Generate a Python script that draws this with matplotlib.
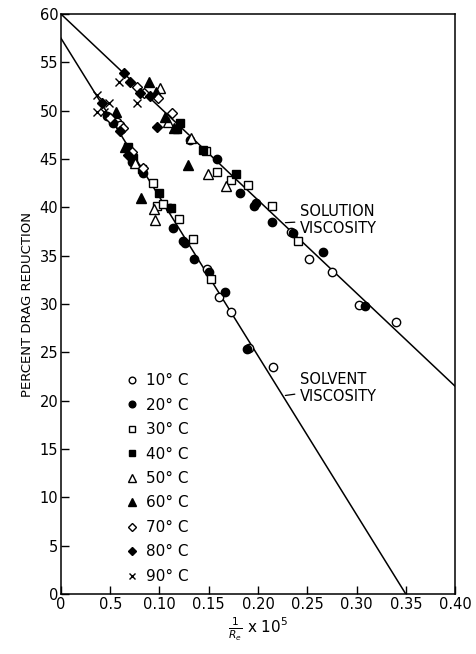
import numpy as np
import matplotlib
matplotlib.use("Agg")
from matplotlib import pyplot as plt

# data (x = 1/Re x 10^5, y = percent drag reduction)
t10_x = [0.148, 0.160, 0.173, 0.191, 0.215, 0.234, 0.252, 0.275, 0.303, 0.340, 0.057, 0.060]
t10_y = [33.6, 30.7, 29.2, 25.5, 23.5, 37.4, 34.7, 33.3, 29.9, 28.1, 48.8, 48.5]

t20_x = [0.072, 0.083, 0.111, 0.114, 0.124, 0.126, 0.135, 0.150, 0.167, 0.189,
         0.131, 0.158, 0.182, 0.198, 0.196, 0.214, 0.236, 0.266, 0.309, 0.053, 0.047]
t20_y = [44.7, 43.6, 39.9, 37.9, 36.5, 36.3, 34.7, 33.3, 31.2, 25.3,
         47.0, 45.0, 41.5, 40.4, 40.1, 38.5, 37.3, 35.4, 29.8, 48.7, 49.4]

t30_x = [0.093, 0.098, 0.104, 0.120, 0.134, 0.152, 0.147, 0.158, 0.173, 0.190, 0.214, 0.241]
t30_y = [42.5, 40.1, 40.3, 38.8, 36.7, 32.6, 45.8, 43.7, 42.8, 42.3, 40.1, 36.5]

t40_x = [0.100, 0.112, 0.068, 0.073, 0.082, 0.121, 0.144, 0.178, 0.118]
t40_y = [41.5, 39.9, 46.2, 45.1, 44.0, 48.7, 45.9, 43.4, 48.1]

t50_x = [0.075, 0.094, 0.095, 0.101, 0.109, 0.132, 0.149, 0.168]
t50_y = [44.6, 39.8, 38.7, 52.3, 48.8, 47.2, 43.4, 42.2]

t60_x = [0.089, 0.096, 0.106, 0.129, 0.081, 0.056, 0.065, 0.115]
t60_y = [53.0, 51.9, 49.3, 44.4, 41.0, 49.9, 46.2, 48.2]

t70_x = [0.077, 0.084, 0.099, 0.113, 0.083, 0.050, 0.063, 0.072]
t70_y = [52.4, 51.8, 51.3, 49.8, 44.1, 49.2, 48.2, 45.7]

t80_x = [0.064, 0.070, 0.080, 0.090, 0.098, 0.042, 0.068, 0.060]
t80_y = [53.9, 53.0, 51.8, 51.5, 48.3, 50.8, 45.4, 47.9]

t90_x = [0.059, 0.077, 0.037, 0.049, 0.037, 0.044]
t90_y = [53.0, 50.8, 51.6, 50.8, 49.9, 49.9]

# fitted lines
solution_x = [0.0, 0.40]
solution_y = [60.0, 21.5]
solvent_x = [0.0, 0.35]
solvent_y = [57.5, 0.0]

labels = ["10° C", "20° C", "30° C", "40° C", "50° C", "60° C", "70° C", "80° C", "90° C"]
xticks = [0, 0.05, 0.10, 0.15, 0.20, 0.25, 0.30, 0.35, 0.40]
xticklabels = ["0", "0.5", "0.10", "0.15", "0.20", "0.25", "0.30", "0.35", "0.40"]
yticks = list(range(0, 61, 5))

series = [(t10_x, t10_y), (t20_x, t20_y), (t30_x, t30_y), (t40_x, t40_y), (t50_x, t50_y),
          (t60_x, t60_y), (t70_x, t70_y), (t80_x, t80_y), (t90_x, t90_y)]
styles = [("o", "white", 6), ("o", "black", 6), ("s", "white", 6), ("s", "black", 6),
          ("^", "white", 6.5), ("^", "black", 6.5), ("D", "white", 5), ("D", "black", 5),
          ("x", "black", 6)]

plt.rcParams["font.family"] = ["DejaVu Sans"]

fig = plt.figure(figsize=(4.76, 6.54), dpi=100)
ax = fig.add_axes([0.128, 0.0917, 0.828, 0.8869])

ax.plot(solution_x, solution_y, color="black", lw=1.1)
ax.plot(solvent_x, solvent_y, color="black", lw=1.1)

for (xs, ys), (m, fc, ms), lab in zip(series, styles, labels):
    if m == "x":
        ax.plot(xs, ys, ls="none", marker=m, color="black", ms=ms, mew=1.0, label=lab)
    else:
        ax.plot(xs, ys, ls="none", marker=m, mfc=fc, mec="black", mew=1.0, ms=ms, label=lab)

ax.set_xlim(0, 0.40)
ax.set_ylim(0, 60)
ax.set_xticks(xticks)
ax.set_xticklabels(xticklabels, fontsize=10.5)
ax.set_yticks(yticks)
ax.set_yticklabels([str(v) for v in yticks], fontsize=10.5)
ax.tick_params(direction="in", length=6, width=1, top=False, right=False, pad=2)
for s in ax.spines.values():
    s.set_linewidth(1.1)

ax.set_ylabel("PERCENT DRAG REDUCTION", fontsize=9.5, labelpad=4)
ax.set_xlabel(r"$\frac{1}{R_e}$ x 10$^5$", fontsize=11, labelpad=3)

ax.annotate("SOLUTION\nVISCOSITY", xy=(0.225, 38.4), xytext=(0.243, 38.7),
            fontsize=10.5, ha="left", va="center", linespacing=1.2,
            arrowprops=dict(arrowstyle="-", color="black", lw=0.9))
ax.annotate("SOLVENT\nVISCOSITY", xy=(0.225, 20.5), xytext=(0.243, 21.3),
            fontsize=10.5, ha="left", va="center", linespacing=1.2,
            arrowprops=dict(arrowstyle="-", color="black", lw=0.9))

ax.legend(loc="upper left", bbox_to_anchor=(0.145, 0.394), frameon=False,
          fontsize=11, handlelength=0.8, handletextpad=0.5, labelspacing=0.62,
          borderpad=0, markerscale=0.8)

fig.savefig("out.png", dpi=100)
